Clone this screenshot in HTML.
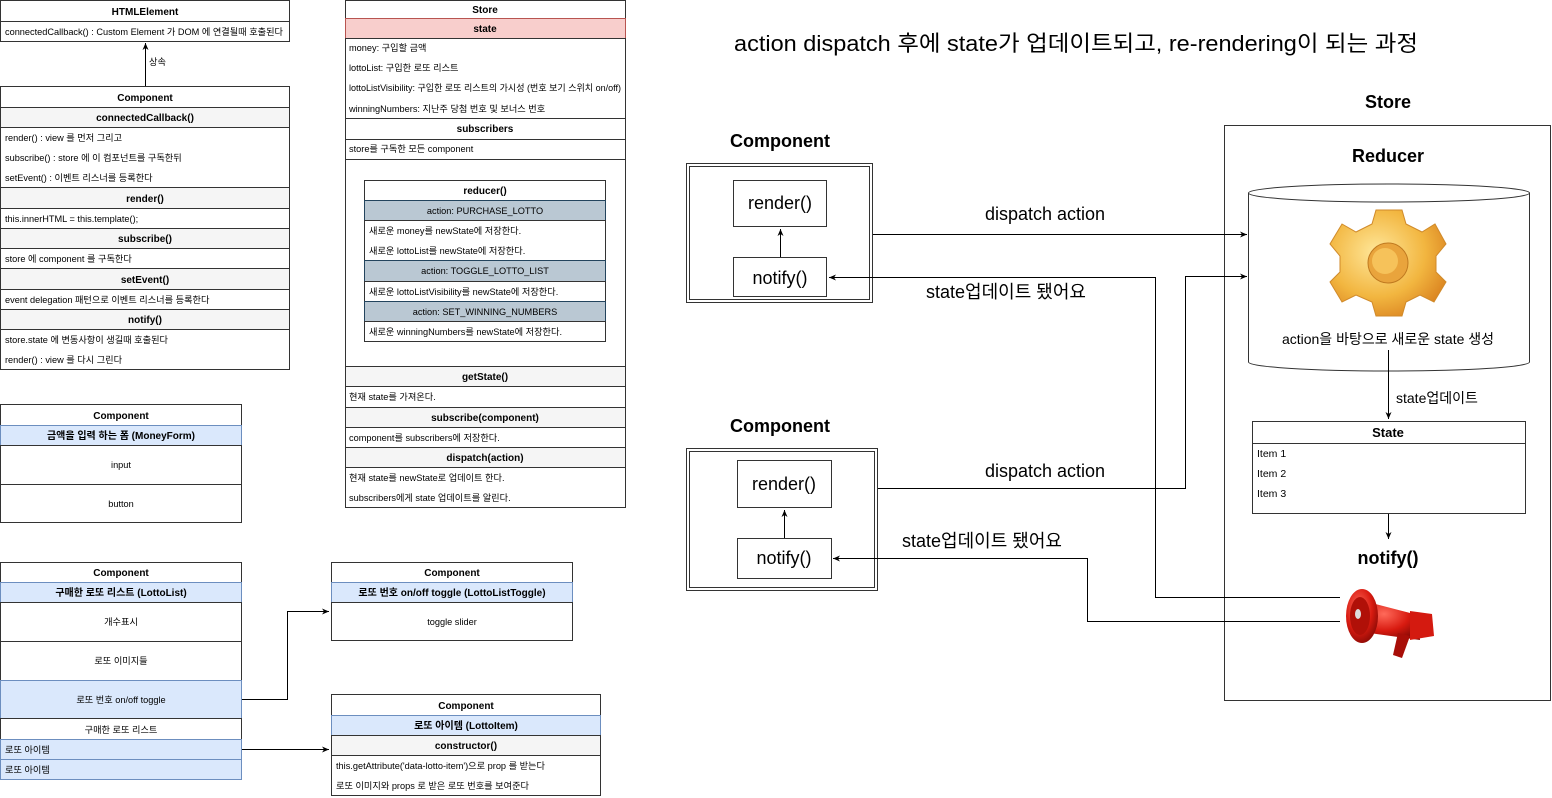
<!DOCTYPE html>
<html><head><meta charset="utf-8"><style>
html,body{margin:0;padding:0;background:#fff;width:1552px;height:798px;overflow:hidden}
svg{display:block}
text{font-family:"Liberation Sans","Noto Sans CJK KR",sans-serif;fill:#000}
.s{font-size:9.2px}
.b{font-size:10px;font-weight:bold}
.c{text-anchor:middle}
</style></head><body>
<svg width="1552" height="798" viewBox="0 0 1552 798" xmlns="http://www.w3.org/2000/svg">
<defs>
<marker id="ar" markerWidth="8" markerHeight="8" refX="7" refY="4" orient="auto" markerUnits="userSpaceOnUse"><path d="M0,1 L7,4 L0,7 L2,4 z" fill="#000"/></marker>
<radialGradient id="gg" cx="0.4" cy="0.4" r="0.7"><stop offset="0" stop-color="#ffe79a"/><stop offset="0.6" stop-color="#f2b640"/><stop offset="1" stop-color="#d9801e"/></radialGradient>
<radialGradient id="rg" cx="0.4" cy="0.35" r="0.7"><stop offset="0" stop-color="#ff6a5a"/><stop offset="0.6" stop-color="#d81a10"/><stop offset="1" stop-color="#8a0a05"/></radialGradient>
</defs>
<g stroke="#333" stroke-width="1" fill="#fff">
<rect x="0.5" y="0.5" width="289" height="21"/><rect x="0.5" y="21.5" width="289" height="20"/>
<rect x="0.5" y="86.5" width="289" height="21"/>
<rect x="0.5" y="107.5" width="289" height="20" fill="#f5f5f5"/>
<rect x="0.5" y="127.5" width="289" height="60"/>
<rect x="0.5" y="187.5" width="289" height="21" fill="#f5f5f5"/>
<rect x="0.5" y="208.5" width="289" height="20"/>
<rect x="0.5" y="228.5" width="289" height="20" fill="#f5f5f5"/>
<rect x="0.5" y="248.5" width="289" height="20"/>
<rect x="0.5" y="268.5" width="289" height="21" fill="#f5f5f5"/>
<rect x="0.5" y="289.5" width="289" height="20"/>
<rect x="0.5" y="309.5" width="289" height="20" fill="#f5f5f5"/>
<rect x="0.5" y="329.5" width="289" height="40"/>
<rect x="0.5" y="404.5" width="241" height="21"/>
<rect x="0.5" y="425.5" width="241" height="20" fill="#dae8fc" stroke="#6c8ebf"/>
<rect x="0.5" y="445.5" width="241" height="39"/>
<rect x="0.5" y="484.5" width="241" height="38"/>
<rect x="0.5" y="562.5" width="241" height="20"/>
<rect x="0.5" y="582.5" width="241" height="20" fill="#dae8fc" stroke="#6c8ebf"/>
<rect x="0.5" y="602.5" width="241" height="39"/>
<rect x="0.5" y="641.5" width="241" height="39"/>
<rect x="0.5" y="680.5" width="241" height="38" fill="#dae8fc" stroke="#6c8ebf"/>
<rect x="0.5" y="718.5" width="241" height="21"/>
<rect x="0.5" y="739.5" width="241" height="20" fill="#dae8fc" stroke="#6c8ebf"/>
<rect x="0.5" y="759.5" width="241" height="20" fill="#dae8fc" stroke="#6c8ebf"/>
<rect x="331.5" y="562.5" width="241" height="20"/>
<rect x="331.5" y="582.5" width="241" height="20" fill="#dae8fc" stroke="#6c8ebf"/>
<rect x="331.5" y="602.5" width="241" height="38"/>
<rect x="331.5" y="694.5" width="269" height="21"/>
<rect x="331.5" y="715.5" width="269" height="20" fill="#dae8fc" stroke="#6c8ebf"/>
<rect x="331.5" y="735.5" width="269" height="20" fill="#f5f5f5"/>
<rect x="331.5" y="755.5" width="269" height="40"/>
<rect x="345.5" y="0.5" width="280" height="18"/>
<rect x="345.5" y="18.5" width="280" height="20" fill="#f8cecc" stroke="#b85450"/>
<rect x="345.5" y="38.5" width="280" height="80"/>
<rect x="345.5" y="118.5" width="280" height="21"/>
<rect x="345.5" y="139.5" width="280" height="20"/>
<rect x="345.5" y="159.5" width="280" height="207"/>
<rect x="345.5" y="366.5" width="280" height="20" fill="#f5f5f5"/>
<rect x="345.5" y="386.5" width="280" height="21"/>
<rect x="345.5" y="407.5" width="280" height="20" fill="#f5f5f5"/>
<rect x="345.5" y="427.5" width="280" height="20"/>
<rect x="345.5" y="447.5" width="280" height="20" fill="#f5f5f5"/>
<rect x="345.5" y="467.5" width="280" height="40"/>
<rect x="364.5" y="180.5" width="241" height="20"/>
<rect x="364.5" y="200.5" width="241" height="20" fill="#bac8d3" stroke="#23445d"/>
<rect x="364.5" y="220.5" width="241" height="40"/>
<rect x="364.5" y="260.5" width="241" height="21" fill="#bac8d3" stroke="#23445d"/>
<rect x="364.5" y="281.5" width="241" height="20"/>
<rect x="364.5" y="301.5" width="241" height="20" fill="#bac8d3" stroke="#23445d"/>
<rect x="364.5" y="321.5" width="241" height="20"/>
</g>
<g stroke="#000" fill="none" stroke-width="1">
<line x1="145.5" y1="86" x2="145.5" y2="43" marker-end="url(#ar)"/>
<polyline points="242,699.5 287.5,699.5 287.5,611.5 329,611.5" marker-end="url(#ar)"/>
<line x1="242" y1="749.5" x2="329" y2="749.5" marker-end="url(#ar)"/>
</g>
<text class="b c" x="145" y="15">HTMLElement</text>
<text class="s" x="5" y="35" textLength="278" lengthAdjust="spacingAndGlyphs">connectedCallback() : Custom Element 가 DOM 에 연결될때 호출된다</text>
<text class="s" x="149" y="65">상속</text>
<text class="b c" x="145" y="101">Component</text>
<text class="b c" x="145" y="121">connectedCallback()</text>
<text class="s" x="5" y="141">render() : view 를 먼저 그리고</text>
<text class="s" x="5" y="161">subscribe() : store 에 이 컴포넌트를 구독한뒤</text>
<text class="s" x="5" y="181">setEvent() : 이벤트 리스너를 등록한다</text>
<text class="b c" x="145" y="202">render()</text>
<text class="s" x="5" y="222">this.innerHTML = this.template();</text>
<text class="b c" x="145" y="242">subscribe()</text>
<text class="s" x="5" y="262">store 에 component 를 구독한다</text>
<text class="b c" x="145" y="283">setEvent()</text>
<text class="s" x="5" y="303">event delegation 패턴으로 이벤트 리스너를 등록한다</text>
<text class="b c" x="145" y="323">notify()</text>
<text class="s" x="5" y="343">store.state 에 변동사항이 생길때 호출된다</text>
<text class="s" x="5" y="363">render() : view 를 다시 그린다</text>

<text class="b c" x="121" y="419">Component</text>
<text class="b c" x="121" y="439">금액을 입력 하는 폼 (MoneyForm)</text>
<text class="s c" x="121" y="468">input</text>
<text class="s c" x="121" y="507">button</text>

<text class="b c" x="121" y="576">Component</text>
<text class="b c" x="121" y="596">구매한 로또 리스트 (LottoList)</text>
<text class="s c" x="121" y="625">개수표시</text>
<text class="s c" x="121" y="664">로또 이미지들</text>
<text class="s c" x="121" y="703">로또 번호 on/off toggle</text>
<text class="s c" x="121" y="733">구매한 로또 리스트</text>
<text class="s" x="5" y="753">로또 아이템</text>
<text class="s" x="5" y="773">로또 아이템</text>

<text class="b c" x="452" y="576">Component</text>
<text class="b c" x="452" y="596">로또 번호 on/off toggle (LottoListToggle)</text>
<text class="s c" x="452" y="625">toggle slider</text>

<text class="b c" x="466" y="709">Component</text>
<text class="b c" x="466" y="729">로또 아이템 (LottoItem)</text>
<text class="b c" x="466" y="749">constructor()</text>
<text class="s" x="336" y="769">this.getAttribute('data-lotto-item')으로 prop 를 받는다</text>
<text class="s" x="336" y="789">로또 이미지와 props 로 받은 로또 번호를 보여준다</text>

<text class="b c" x="485" y="13">Store</text>
<text class="b c" x="485" y="32">state</text>
<text class="s" x="349" y="51">money: 구입할 금액</text>
<text class="s" x="349" y="71">lottoList: 구입한 로또 리스트</text>
<text class="s" x="349" y="91" textLength="272" lengthAdjust="spacingAndGlyphs">lottoListVisibility: 구입한 로또 리스트의 가시성 (번호 보기 스위치 on/off)</text>
<text class="s" x="349" y="112">winningNumbers: 지난주 당첨 번호 및 보너스 번호</text>
<text class="b c" x="485" y="132">subscribers</text>
<text class="s" x="349" y="152">store를 구독한 모든 component</text>
<text class="b c" x="485" y="194">reducer()</text>
<text class="s c" x="485" y="214">action: PURCHASE_LOTTO</text>
<text class="s" x="369" y="234">새로운 money를 newState에 저장한다.</text>
<text class="s" x="369" y="254">새로운 lottoList를 newState에 저장한다.</text>
<text class="s c" x="485" y="274">action: TOGGLE_LOTTO_LIST</text>
<text class="s" x="369" y="295">새로운 lottoListVisibility를 newState에 저장한다.</text>
<text class="s c" x="485" y="315">action: SET_WINNING_NUMBERS</text>
<text class="s" x="369" y="335">새로운 winningNumbers를 newState에 저장한다.</text>
<text class="b c" x="485" y="380">getState()</text>
<text class="s" x="349" y="400">현재 state를 가져온다.</text>
<text class="b c" x="485" y="421">subscribe(component)</text>
<text class="s" x="349" y="441">component를 subscribers에 저장한다.</text>
<text class="b c" x="485" y="461">dispatch(action)</text>
<text class="s" x="349" y="481">현재 state를 newState로 업데이트 한다.</text>
<text class="s" x="349" y="501">subscribers에게 state 업데이트를 알린다.</text>

<text x="734" y="51" style="font-size:22px" textLength="684" lengthAdjust="spacingAndGlyphs">action dispatch 후에 state가 업데이트되고, re-rendering이 되는 과정</text>
<text x="1388" y="108" class="c" style="font-size:18px;font-weight:bold">Store</text>
<rect x="1224.5" y="125.5" width="326" height="575" fill="#fff" stroke="#333"/>
<text x="1388" y="162" class="c" style="font-size:18px;font-weight:bold">Reducer</text>
<path d="M1248.5,193 L1248.5,362 A140.5,9 0 0 0 1529.5,362 L1529.5,193 A140.5,9 0 0 0 1248.5,193 A140.5,9 0 0 0 1529.5,193" fill="#fff" stroke="#333"/>
<g transform="translate(1388,262)">
<path d="M-12,-52 L14,-52 L18,-38 L34,-30 L47,-38 L58,-18 L48,-6 L48,10 L58,20 L46,40 L32,33 L18,40 L14,54 L-12,54 L-16,40 L-32,33 L-46,40 L-58,20 L-48,10 L-48,-6 L-58,-18 L-46,-38 L-32,-30 L-16,-38 Z" fill="url(#gg)" stroke="#d08a2a" stroke-width="1"/>
<circle cx="0" cy="1" r="20" fill="#e9a43c" stroke="#c07a20"/>
<circle cx="-3" cy="-1" r="13" fill="#f6c25a"/>
</g>
<text x="1388" y="344" class="c" style="font-size:14px">action을 바탕으로 새로운 state 생성</text>
<line x1="1388.5" y1="350" x2="1388.5" y2="419" stroke="#000" marker-end="url(#ar)"/>
<text x="1396" y="403" style="font-size:14px">state업데이트</text>
<rect x="1252.5" y="421.5" width="273" height="92" fill="#fff" stroke="#333"/>
<line x1="1252" y1="443.5" x2="1526" y2="443.5" stroke="#333"/>
<text x="1388" y="437" class="c" style="font-size:13px;font-weight:bold">State</text>
<text x="1257" y="457" style="font-size:10.5px">Item 1</text>
<text x="1257" y="477" style="font-size:10.5px">Item 2</text>
<text x="1257" y="497" style="font-size:10.5px">Item 3</text>
<line x1="1388.5" y1="514" x2="1388.5" y2="539" stroke="#000" marker-end="url(#ar)"/>
<text x="1388" y="564" class="c" style="font-size:18px;font-weight:bold">notify()</text>
<g>
<path d="M1360,600 L1418,615 L1420,640 L1362,632 Z" fill="url(#rg)"/>
<ellipse cx="1362" cy="616" rx="16" ry="27" fill="url(#rg)"/>
<ellipse cx="1360" cy="616" rx="10" ry="19" fill="#b01008"/>
<ellipse cx="1358" cy="614" rx="3" ry="5" fill="#ddd"/>
<path d="M1410,611 L1432,614 L1434,636 L1410,640 Z" fill="#d41a10"/>
<path d="M1398,633 L1410,636 L1402,658 L1393,655 Z" fill="#a80e08"/>
</g>
<text x="780" y="147" class="c" style="font-size:18px;font-weight:bold">Component</text>
<rect x="686.5" y="163.5" width="186" height="139" fill="#fff" stroke="#333"/>
<rect x="689.5" y="166.5" width="180" height="133" fill="none" stroke="#333"/>
<rect x="733.5" y="180.5" width="93" height="46" fill="#fff" stroke="#333"/>
<rect x="733.5" y="257.5" width="93" height="39" fill="#fff" stroke="#333"/>
<text x="780" y="209" class="c" style="font-size:18px">render()</text>
<text x="780" y="284" class="c" style="font-size:18px">notify()</text>
<line x1="780.5" y1="257" x2="780.5" y2="229" stroke="#000" marker-end="url(#ar)"/>

<text x="780" y="432" class="c" style="font-size:18px;font-weight:bold">Component</text>
<rect x="686.5" y="448.5" width="191" height="142" fill="#fff" stroke="#333"/>
<rect x="689.5" y="451.5" width="185" height="136" fill="none" stroke="#333"/>
<rect x="737.5" y="460.5" width="94" height="47" fill="#fff" stroke="#333"/>
<rect x="737.5" y="538.5" width="94" height="40" fill="#fff" stroke="#333"/>
<text x="784" y="490" class="c" style="font-size:18px">render()</text>
<text x="784" y="564" class="c" style="font-size:18px">notify()</text>
<line x1="784.5" y1="538" x2="784.5" y2="510" stroke="#000" marker-end="url(#ar)"/>

<g stroke="#000" fill="none">
<line x1="873" y1="234.5" x2="1247" y2="234.5" marker-end="url(#ar)"/>
<polyline points="1340,597.5 1155.5,597.5 1155.5,277.5 829,277.5" marker-end="url(#ar)"/>
<polyline points="878,488.5 1185.5,488.5 1185.5,276.5 1247,276.5" marker-end="url(#ar)"/>
<polyline points="1340,621.5 1087.5,621.5 1087.5,558.5 833,558.5" marker-end="url(#ar)"/>
</g>
<text x="1045" y="220" class="c" style="font-size:18px">dispatch action</text>
<text x="1006" y="298" class="c" style="font-size:18px">state업데이트 됐어요</text>
<text x="1045" y="477" class="c" style="font-size:18px">dispatch action</text>
<text x="982" y="547" class="c" style="font-size:18px">state업데이트 됐어요</text>
</svg>
</body></html>
